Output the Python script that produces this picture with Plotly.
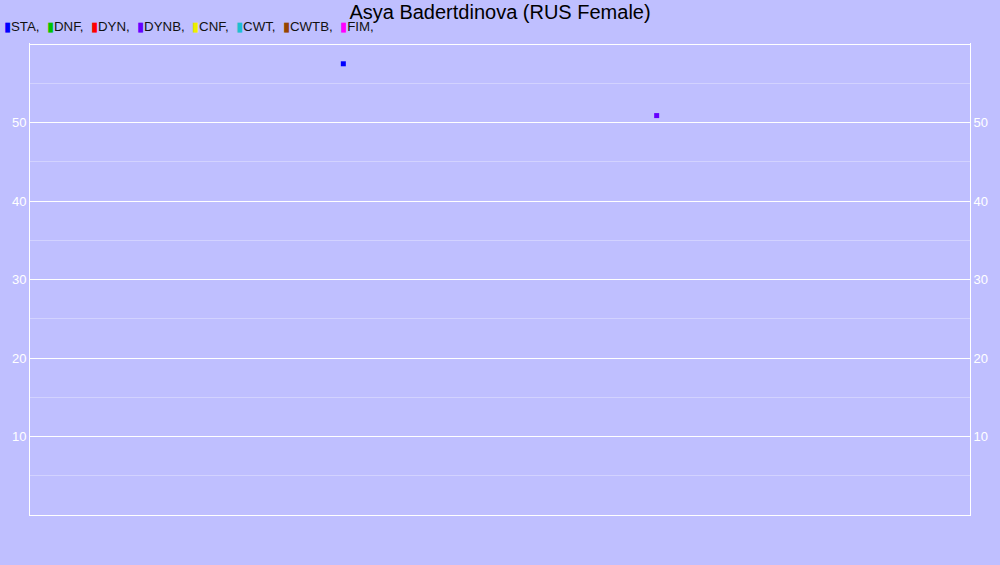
import plotly.graph_objects as go

# disciplines shown in the legend, with their colours
disciplines = ["STA", "DNF", "DYN", "DYNB", "CNF", "CWT", "CWTB", "FIM"]
colors = ["#0000ff", "#00c400", "#ff0000", "#6600ff", "#eeee00", "#1ebed2", "#964400", "#ff00ff"]

# results that appear on the chart
point_disc = ["STA", "DYNB"]
point_x = [1, 2]
point_y = [57.5, 50.9]

# y ticks (0 and 60 only get a grid line, no label)
tick_vals = [0, 10, 20, 30, 40, 50, 60]
tick_text = ["", "10", "20", "30", "40", "50", ""]

bg = "#bfbfff"

fig = go.Figure()

for d, c in zip(disciplines, colors):
    xs = [x for x, p in zip(point_x, point_disc) if p == d]
    ys = [y for y, p in zip(point_y, point_disc) if p == d]
    fig.add_trace(go.Scatter(x=xs, y=ys, mode="markers", name=d,
                             marker=dict(symbol="square", size=5, color=c),
                             showlegend=False, hoverinfo="x+y+name"))

# dummy trace so the right-hand axis gets drawn
fig.add_trace(go.Scatter(x=[None], y=[None], yaxis="y2", showlegend=False))

# legend as one line of text, like the original
legend_txt = "".join(
    "<span style='color:%s'>▮</span>%s,  " % (c, d) for d, c in zip(disciplines, colors)
)
fig.add_annotation(text=legend_txt, xref="paper", yref="paper",
                   x=-0.03, y=1.035, xanchor="left", yanchor="middle",
                   showarrow=False, font=dict(size=13.3, color="#111111"))

yaxis_style = dict(range=[0, 60.15], tickvals=tick_vals, ticktext=tick_text,
                   showline=True, linecolor="white", linewidth=1,
                   tickfont=dict(size=13, color="white"),
                   zeroline=False, fixedrange=True)

fig.update_layout(
    width=1000, height=565,
    paper_bgcolor=bg, plot_bgcolor=bg,
    margin=dict(l=30, r=30, t=43, b=50),
    font=dict(family="Liberation Sans, Arial, sans-serif"),
    title=dict(text="Asya Badertdinova (RUS Female)", x=0.5, y=0.979,
               xanchor="center", yanchor="middle",
               font=dict(size=20, color="black")),
    xaxis=dict(range=[0, 3], showgrid=False, showticklabels=False,
               showline=True, linecolor="white", zeroline=False),
    yaxis=dict(**yaxis_style, gridcolor="white",
               minor=dict(dtick=5, showgrid=True, gridcolor="#d2d2ff")),
    yaxis2=dict(**yaxis_style, overlaying="y", side="right", showgrid=False),
)

fig.write_html("out.html", config={"displayModeBar": False},
               post_script="document.body.style.margin='0';")
